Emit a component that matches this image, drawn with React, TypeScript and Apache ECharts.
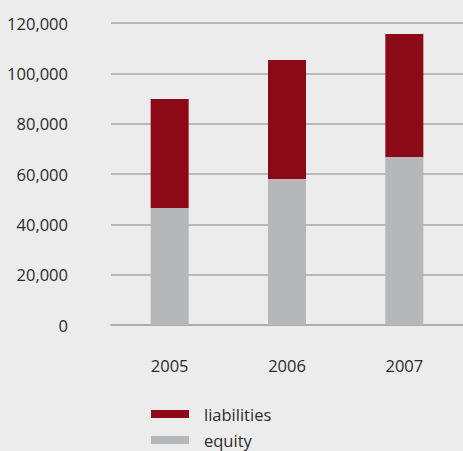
import React, { useEffect, useRef } from "react";
import * as echarts from "echarts";

const years = ["2005", "2006", "2007"];
const equity = [46500, 58000, 66800];
const liabilities = [43300, 47300, 48800];
const yTicks = [0, 20000, 40000, 60000, 80000, 100000, 120000];

export default function App() {
  const ref = useRef<HTMLDivElement>(null);
  useEffect(() => {
    document.body.style.margin = "0";
    const chart = echarts.init(ref.current!, null, { renderer: "svg" });
    const font = "'Open Sans', 'Noto Sans', sans-serif";
    chart.setOption({
      animation: false,
      backgroundColor: "#ebeceb",
      grid: { left: 111, right: -2, top: 23, bottom: 126 },
      xAxis: {
        type: "category",
        data: years,
        axisLine: { show: true, lineStyle: { color: "#a9a9a9", width: 1.5 } },
        axisTick: { show: false },
        axisLabel: { margin: 32, fontSize: 16.5, color: "#2b2b2b", fontFamily: font },
      },
      yAxis: {
        type: "value",
        min: yTicks[0],
        max: yTicks[yTicks.length - 1],
        interval: 20000,
        axisLine: { show: false },
        axisTick: { show: false },
        splitLine: { lineStyle: { color: "#a9a9a9", width: 1.5 } },
        axisLabel: {
          margin: 43,
          fontSize: 16.5,
          color: "#2b2b2b",
          fontFamily: font,
          formatter: (v: number) => v.toLocaleString("en-US"),
        },
      },
      legend: {
        orient: "vertical",
        left: 151,
        top: 405,
        padding: 0,
        icon: "rect",
        itemWidth: 38,
        itemHeight: 8,
        itemGap: 8,
        data: ["liabilities", "equity"],
        textStyle: {
          fontSize: 16.5,
          lineHeight: 18,
          color: "#2b2b2b",
          fontFamily: font,
          padding: [0, 0, 0, 10],
        },
      },
      series: [
        {
          name: "equity",
          type: "bar",
          stack: "total",
          data: equity,
          barWidth: 38,
          itemStyle: { color: "#b6b7b8" },
        },
        {
          name: "liabilities",
          type: "bar",
          stack: "total",
          data: liabilities,
          barWidth: 38,
          itemStyle: { color: "#8c0a18" },
        },
      ],
    });
    return () => chart.dispose();
  }, []);
  return (
    <div
      ref={ref}
      style={{ position: "fixed", left: 0, top: 0, width: 463, height: 451 }}
    />
  );
}
